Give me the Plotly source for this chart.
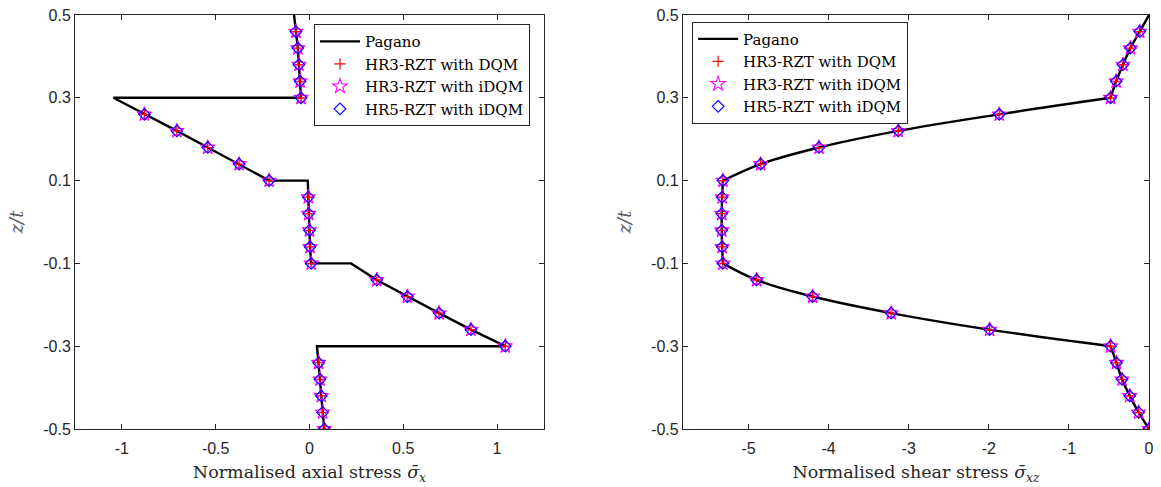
import plotly.graph_objects as go

# Through-thickness coordinate of the sampling nodes (5 per layer)
z_nodes = [-0.50, -0.46, -0.42, -0.38, -0.34,
           -0.30, -0.26, -0.22, -0.18, -0.14,
           -0.10, -0.06, -0.02, 0.02, 0.06,
           0.10, 0.14, 0.18, 0.22, 0.26,
           0.30, 0.34, 0.38, 0.42, 0.46]

# Pagano reference solution, layer by layer (interfaces repeated)
z_pagano = [-0.50, -0.46, -0.42, -0.38, -0.34, -0.30,
            -0.30, -0.26, -0.22, -0.18, -0.14, -0.10,
            -0.10, -0.06, -0.02, 0.02, 0.06, 0.10,
            0.10, 0.14, 0.18, 0.22, 0.26, 0.30,
            0.30, 0.34, 0.38, 0.42, 0.46, 0.50]

sx_pagano = [0.079, 0.070, 0.063, 0.056, 0.049, 0.040,
             1.044, 0.861, 0.691, 0.522, 0.359, 0.222,
             0.009, 0.003, 0.000, -0.004, -0.006, -0.009,
             -0.215, -0.375, -0.542, -0.707, -0.880, -1.045,
             -0.045, -0.050, -0.056, -0.062, -0.072, -0.082]

sxz_pagano = [0.000, -0.129, -0.240, -0.337, -0.407, -0.480,
              -0.480, -1.990, -3.220, -4.200, -4.900, -5.320,
              -5.320, -5.330, -5.335, -5.335, -5.330, -5.320,
              -5.320, -4.850, -4.120, -3.130, -1.870, -0.480,
              -0.480, -0.410, -0.325, -0.232, -0.116, 0.000]

# Numerical results (HR3-RZT DQM, HR3-RZT iDQM, HR5-RZT iDQM coincide)
sx_hr3_dqm = [0.079, 0.070, 0.063, 0.056, 0.049,
              1.044, 0.861, 0.691, 0.522, 0.359,
              0.009, 0.003, 0.000, -0.004, -0.006,
              -0.215, -0.375, -0.542, -0.707, -0.880,
              -0.045, -0.050, -0.056, -0.062, -0.072]
sx_hr3_idqm = list(sx_hr3_dqm)
sx_hr5_idqm = list(sx_hr3_dqm)

sxz_hr3_dqm = [0.000, -0.129, -0.240, -0.337, -0.407,
               -0.480, -1.990, -3.220, -4.200, -4.900,
               -5.320, -5.330, -5.335, -5.335, -5.330,
               -5.320, -4.850, -4.120, -3.130, -1.870,
               -0.480, -0.410, -0.325, -0.232, -0.116]
sxz_hr3_idqm = list(sxz_hr3_dqm)
sxz_hr5_idqm = list(sxz_hr3_dqm)

layer_len = 6


def split_layers(vals):
    """Insert gaps between layers so each layer is drawn as its own curve."""
    out = []
    for i in range(0, len(vals), layer_len):
        out.extend(vals[i:i + layer_len])
        out.append(None)
    return out[:-1]


SERIF = "DejaVu Serif"
SANS = "Liberation Sans"
AX = "#262626"

fig = go.Figure()


def add_panel(xs_pag, xs_a, xs_b, xs_c, xa, ya, legend_name, spline):
    if spline:
        fig.add_trace(go.Scatter(
            x=split_layers(xs_pag), y=split_layers(z_pagano), mode="lines",
            line=dict(color="black", width=2.4, shape="spline", smoothing=1.0),
            name="Pagano", xaxis=xa, yaxis=ya, legend=legend_name, connectgaps=False))
    else:
        fig.add_trace(go.Scatter(
            x=xs_pag, y=z_pagano, mode="lines",
            line=dict(color="black", width=2.4),
            name="Pagano", xaxis=xa, yaxis=ya, legend=legend_name))
    fig.add_trace(go.Scatter(
        x=xs_a, y=z_nodes, mode="markers", name="HR3-RZT with DQM",
        marker=dict(symbol="cross-thin", size=8, line=dict(color="#FF0000", width=1.2)),
        xaxis=xa, yaxis=ya, legend=legend_name))
    fig.add_trace(go.Scatter(
        x=xs_b, y=z_nodes, mode="markers", name="HR3-RZT with iDQM",
        marker=dict(symbol="star-open", size=11, color="#FF00FF", line=dict(color="#FF00FF", width=1.1)),
        xaxis=xa, yaxis=ya, legend=legend_name))
    fig.add_trace(go.Scatter(
        x=xs_c, y=z_nodes, mode="markers", name="HR5-RZT with iDQM",
        marker=dict(symbol="diamond-open", size=9, color="#0000FF", line=dict(color="#0000FF", width=1.1)),
        xaxis=xa, yaxis=ya, legend=legend_name))


add_panel(sx_pagano, sx_hr3_dqm, sx_hr3_idqm, sx_hr5_idqm, "x", "y", "legend", False)
add_panel(sxz_pagano, sxz_hr3_dqm, sxz_hr3_idqm, sxz_hr5_idqm, "x2", "y2", "legend2", True)

z_ticks = [-0.5, -0.3, -0.1, 0.1, 0.3, 0.5]
z_tick_text = ["-0.5", "-0.3", "-0.1", "0.1", "0.3", "0.5"]
sx_ticks = [-1, -0.5, 0, 0.5, 1]
sx_tick_text = ["-1", "-0.5", "0", "0.5", "1"]
sxz_ticks = [-5, -4, -3, -2, -1, 0]
sxz_tick_text = ["-5", "-4", "-3", "-2", "-1", "0"]

common_axis = dict(
    showline=True, linecolor=AX, linewidth=1, mirror="ticks",
    ticks="inside", ticklen=5, tickwidth=1, tickcolor=AX,
    showgrid=False, zeroline=False, automargin=False,
    tickfont=dict(family=SANS, size=16, color=AX),
)

x_title_font = dict(family=SERIF, size=17.5, color=AX)
y_title_font = dict(family=SERIF, size=18, color="#555555")

legend_style = dict(
    bgcolor="white", bordercolor=AX, borderwidth=1,
    font=dict(family=SERIF, size=15, color="black"),
    itemwidth=40, tracegroupgap=0,
    xanchor="left", yanchor="top",
)

fig.update_layout(
    width=1161, height=487,
    margin=dict(l=75, r=12, t=15, b=58),
    plot_bgcolor="white", paper_bgcolor="white",
    showlegend=True,
    xaxis=dict(domain=[0, 0.4366], range=[-1.25, 1.25], anchor="y",
               tickvals=sx_ticks, ticktext=sx_tick_text, ticklabelstandoff=5,
               title=dict(text="Normalised axial stress <i>σ̄</i><sub><i>x</i></sub>",
                          font=x_title_font, standoff=9),
               **common_axis),
    yaxis=dict(domain=[0, 1], range=[-0.5, 0.5], anchor="x",
               tickvals=z_ticks, ticktext=z_tick_text,
               title=dict(text="<i>z/t</i>", font=y_title_font, standoff=14),
               **common_axis),
    xaxis2=dict(domain=[0.566, 1], range=[-5.82, 0], anchor="y2",
                tickvals=sxz_ticks, ticktext=sxz_tick_text, ticklabelstandoff=5,
                title=dict(text="Normalised shear stress <i>σ̄</i><sub><i>xz</i></sub>",
                           font=x_title_font, standoff=9),
                **common_axis),
    yaxis2=dict(domain=[0, 1], range=[-0.5, 0.5], anchor="x2",
                tickvals=z_ticks, ticktext=z_tick_text,
                title=dict(text="<i>z/t</i>", font=y_title_font, standoff=14),
                **common_axis),
    legend=dict(x=0.2225, y=0.978, **legend_style),
    legend2=dict(x=0.5746, y=0.984, **legend_style),
)

fig.write_html("out.html")
